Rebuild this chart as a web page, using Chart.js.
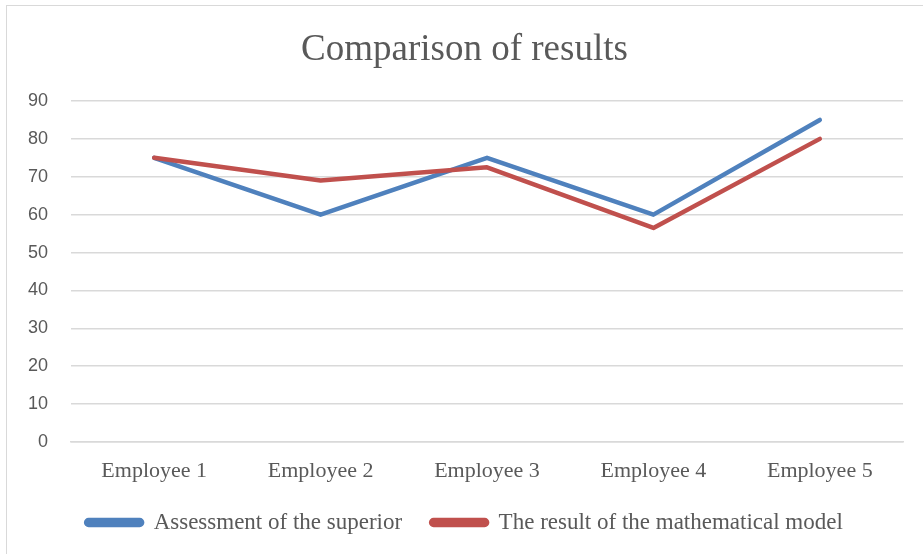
<!DOCTYPE html>
<html>
<head>
<meta charset="utf-8">
<script src="https://cdn.jsdelivr.net/npm/chart.js@4/dist/chart.umd.min.js"></script>
<style>
    body { margin: 0; background: #fff; }
    #frame { position: absolute; left: 6px; top: 5px; width: 940px; height: 570px; border: 1px solid #d9d9d9; }
    #wrap { position: absolute; left: 0; top: 0; width: 923px; height: 554px; }
</style>
</head>
<body>
<div id="frame"></div>
<div id="wrap"><canvas id="results-chart"></canvas></div>
<script>
// Comparison of results - line chart
const employees = ['Employee 1', 'Employee 2', 'Employee 3', 'Employee 4', 'Employee 5'];
const superiorScores = [75, 60, 75, 60, 85];
const modelScores = [75, 69, 72.5, 56.5, 80];
const yTicks = [0, 10, 20, 30, 40, 50, 60, 70, 80, 90];

const serif = '"Liberation Serif", "Times New Roman", serif';
const sans = '"Liberation Sans", Arial, sans-serif';
const grey = '#595959';

new Chart(document.getElementById('results-chart').getContext('2d'), {
    type: 'line',
    data: {
        labels: employees,
        datasets: [
            {
                label: 'Assessment of the superior',
                data: superiorScores,
                borderColor: '#4F81BD',
                backgroundColor: '#4F81BD',
                order: 2
            },
            {
                label: 'The result of the mathematical model',
                data: modelScores,
                borderColor: '#C0504D',
                backgroundColor: '#C0504D',
                order: 1
            }
        ]
    },
    options: {
        responsive: true,
        maintainAspectRatio: false,
        animation: false,
        // left padding + y axis width keep the plot at x=71 and push title/legend centre right
        layout: { padding: { top: 22, right: 20, bottom: 10, left: 26 } },
        elements: {
            line: { borderWidth: 4.5, tension: 0, borderCapStyle: 'round', borderJoinStyle: 'round' },
            point: { radius: 0, hoverRadius: 0 }
        },
        scales: {
            x: {
                offset: true,
                grid: { display: false, drawTicks: false },
                border: { display: true, color: '#d9d9d9', width: 1.5 },
                ticks: { color: grey, font: { family: serif, size: 22 }, padding: 16 },
                afterFit: s => { s.height = 40; }
            },
            y: {
                min: 0,
                max: 90,
                afterBuildTicks: s => { s.ticks = yTicks.map(v => ({ value: v })); },
                grid: { color: '#d9d9d9', lineWidth: 1.5, drawTicks: false },
                border: { display: false },
                ticks: { color: grey, font: { family: sans, size: 18 }, padding: 23 },
                afterFit: s => { s.width = 45; }
            }
        },
        plugins: {
            title: {
                display: true,
                text: 'Comparison of results',
                color: grey,
                font: { family: serif, size: 37, weight: 'normal' },
                padding: { top: 6, bottom: 28.6 }
            },
            legend: {
                position: 'bottom',
                reverse: true,
                labels: {
                    color: grey,
                    font: { family: serif, size: 23 },
                    boxWidth: 56,
                    boxHeight: 5,
                    padding: 29,
                    useBorderRadius: true,
                    borderRadius: 2.5
                }
            },
            tooltip: { enabled: false }
        }
    }
});
</script>
</body>
</html>
